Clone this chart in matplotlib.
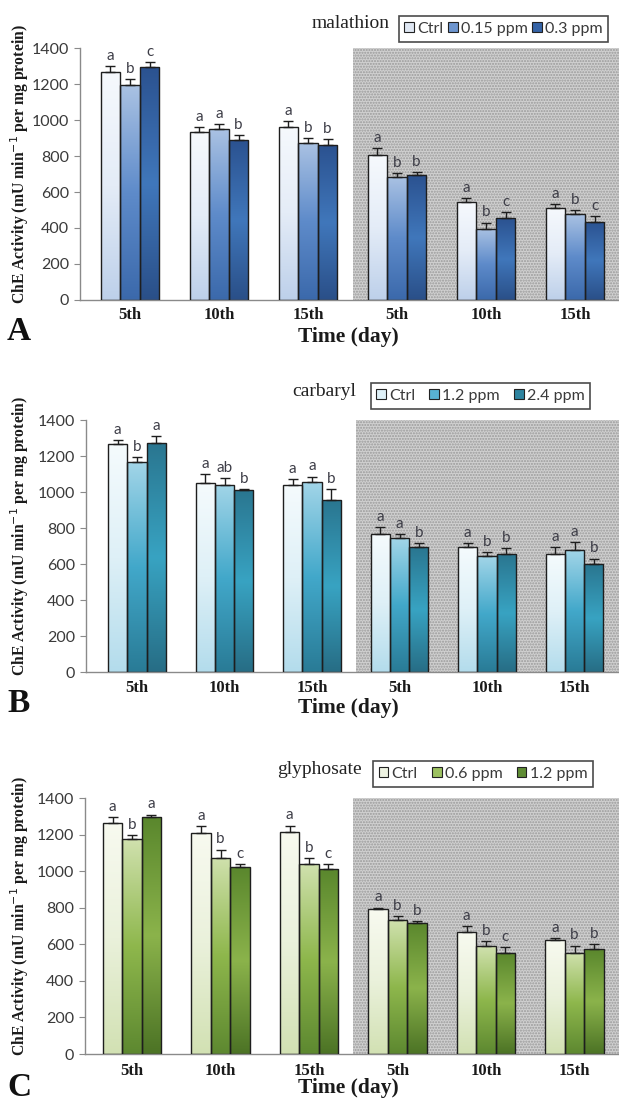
import numpy as np
import matplotlib
matplotlib.use("Agg")
import matplotlib.pyplot as plt
import matplotlib.patches as mpatches
from matplotlib.colors import LinearSegmentedColormap

# ---------------- data ----------------
days = ["5th", "10th", "15th", "5th", "10th", "15th"]

mal_labels = ["Ctrl", "0.15 ppm", "0.3 ppm"]
mal_ctrl = [1264, 933, 962, 805, 543, 512]
mal_low = [1192, 948, 873, 686, 397, 477]
mal_high = [1294, 888, 860, 694, 454, 436]
mal_ctrl_err = [37, 26, 30, 37, 24, 22]
mal_low_err = [37, 31, 28, 19, 33, 22]
mal_high_err = [26, 30, 32, 18, 36, 31]
mal_letters = [["a", "b", "c"], ["a", "a", "b"], ["a", "b", "b"],
               ["a", "b", "b"], ["a", "b", "c"], ["a", "b", "c"]]

car_labels = ["Ctrl", "1.2 ppm", "2.4 ppm"]
car_ctrl = [1265, 1048, 1038, 766, 692, 656]
car_low = [1164, 1040, 1055, 742, 642, 677]
car_high = [1272, 1011, 955, 694, 655, 599]
car_ctrl_err = [24, 50, 34, 37, 24, 39]
car_low_err = [28, 39, 30, 22, 24, 44]
car_high_err = [39, 5, 61, 20, 35, 31]
car_letters = [["a", "b", "a"], ["a", "ab", "b"], ["a", "a", "b"],
               ["a", "a", "b"], ["a", "b", "b"], ["a", "a", "b"]]

gly_labels = ["Ctrl", "0.6 ppm", "1.2 ppm"]
gly_ctrl = [1265, 1208, 1216, 794, 668, 624]
gly_low = [1174, 1073, 1037, 732, 588, 553]
gly_high = [1294, 1022, 1009, 719, 555, 573]
gly_ctrl_err = [31, 39, 33, 7, 33, 8]
gly_low_err = [23, 44, 33, 22, 31, 40]
gly_high_err = [15, 17, 31, 6, 31, 29]
gly_letters = [["a", "b", "a"], ["a", "b", "c"], ["a", "b", "c"],
               ["a", "b", "b"], ["a", "b", "c"], ["a", "b", "b"]]

yticks = [0, 200, 400, 600, 800, 1000, 1200, 1400]

# ---------------- style ----------------
W, H = 619, 1105
fig = plt.figure(figsize=(W / 100, H / 100), dpi=100)

SANS = "Lato"
SERIF = "Liberation Serif"

grads = {
    "A": [["#f6f9fd", "#e4ecf7", "#bdd0ea"],
          ["#aac2e3", "#5e8bca", "#3b69ab"],
          ["#2b5290", "#4077bb", "#2a4f88"]],
    "B": [["#f5fbfd", "#def0f7", "#b3dcec"],
          ["#a2d5e8", "#42a8ca", "#297b96"],
          ["#2a7690", "#38a3c2", "#276d85"]],
    "C": [["#f8faf0", "#eaf1db", "#d2e1b3"],
          ["#d0e1ae", "#8eb74c", "#5d8830"],
          ["#5a872d", "#8bb34b", "#4c7325"]],
}
legend_mid = {
    "A": ["#dfe7f3", "#6d95cf", "#3563a6"],
    "B": ["#def0f7", "#58b2d2", "#2e84a0"],
    "C": ["#eef3e2", "#9cc160", "#5f8c34"],
}

panels = [
    dict(key="A", title="malathion", labels=mal_labels,
         vals=[mal_ctrl, mal_low, mal_high],
         errs=[mal_ctrl_err, mal_low_err, mal_high_err], letters=mal_letters,
         left=80, c0=130, sp=89, y0=300, y1400=48,
         leg=(400, 607, 15, 43), colsp=0.3, title_x=312, title_y=24,
         letter_y=331, time_y=337, tickpad=5),
    dict(key="B", title="carbaryl", labels=car_labels,
         vals=[car_ctrl, car_low, car_high],
         errs=[car_ctrl_err, car_low_err, car_high_err], letters=car_letters,
         left=86, c0=137, sp=87.5, y0=672, y1400=420,
         leg=(368, 593, 380, 412), colsp=0.9, title_x=292, title_y=391,
         letter_y=703, time_y=708, tickpad=6),
    dict(key="C", title="glyphosate", labels=gly_labels,
         vals=[gly_ctrl, gly_low, gly_high],
         errs=[gly_ctrl_err, gly_low_err, gly_high_err], letters=gly_letters,
         left=85, c0=132, sp=88.5, y0=1054, y1400=798,
         leg=(369, 597, 758, 790), colsp=0.9, title_x=277, title_y=769,
         letter_y=1087, time_y=1088, tickpad=6.5),
]

bw = 0.22
offsets = [-bw, 0.0, bw]

for p in panels:
    key = p["key"]
    ax = fig.add_axes([p["left"] / W, 1 - p["y0"] / H,
                       (W - p["left"]) / W, (p["y0"] - p["y1400"]) / H])
    xmin = (p["left"] - p["c0"]) / p["sp"]
    xmax = (W - p["c0"]) / p["sp"]

    # shaded region
    ax.axvspan(2.5, xmax, ymin=0, ymax=1, facecolor="#d0d0d0",
               edgecolor="#9a9a9a", hatch="......", linewidth=0, zorder=0)

    x = np.arange(len(days))
    for i in range(3):
        cmap = LinearSegmentedColormap.from_list(f"g{key}{i}", grads[key][i])
        xs = x + offsets[i]
        bars = ax.bar(xs, p["vals"][i], width=bw, facecolor="none",
                      edgecolor="#1e1e1e", linewidth=1.0, zorder=3)
        for b in bars:
            bx = b.get_x()
            bwid, bh = b.get_width(), b.get_height()
            grad = np.linspace(0, 1, 256).reshape(-1, 1)
            im = ax.imshow(grad, cmap=cmap, aspect="auto", origin="upper",
                           extent=[bx, bx + bwid, 0, bh], zorder=2,
                           interpolation="bilinear")
            im.set_clip_path(b)
        ax.errorbar(xs, p["vals"][i],
                    yerr=[np.zeros(len(xs)), p["errs"][i]],
                    fmt="none", ecolor="#1e1e1e", elinewidth=1.0,
                    capsize=3.5, capthick=1.0, zorder=4)
        for j in range(len(days)):
            top = p["vals"][i][j] + p["errs"][i][j]
            ax.text(xs[j], top + 18, p["letters"][j][i], ha="center",
                    va="bottom", fontsize=11, color="#3d3d47",
                    family=SANS, zorder=5)
    ax.set_aspect("auto")
    ax.set_xlim(xmin, xmax)
    ax.set_ylim(0, 1400)

    ax.set_xticks(x)
    ax.set_xticklabels(days, family=SERIF, fontweight="bold", fontsize=12,
                       color="#1a1a1a")
    ax.tick_params(axis="x", length=0, pad=p["tickpad"])
    ax.set_yticks(yticks)
    ax.set_yticklabels([str(v) for v in yticks], family=SANS, fontsize=11.5,
                       color="#3a3a3a")
    ax.tick_params(axis="y", length=4, width=0.8, color="#8a8a8a", pad=4)
    for s in ["top", "right"]:
        ax.spines[s].set_visible(False)
    for s in ["left", "bottom"]:
        ax.spines[s].set_color("#8a8a8a")
        ax.spines[s].set_linewidth(1.0)

    # y label
    fig.text(20 / W, 1 - ((p["y0"] + p["y1400"]) / 2 - 10) / H,
             "ChE Activity (mU min$^{-1}$ per mg protein)", rotation=90,
             ha="center", va="center", family=SERIF, fontweight="bold",
             fontsize=11.3, color="#1a1a1a")
    # x label
    fig.text(348 / W, 1 - p["time_y"] / H, "Time (day)", ha="center",
             va="center", family=SERIF, fontweight="bold", fontsize=15.5,
             color="#1a1a1a")
    # panel letter
    fig.text(7 / W, 1 - p["letter_y"] / H, key, ha="left", va="center",
             family=SERIF, fontweight="bold", fontsize=24, color="#111111")

    # legend
    lx0, lx1, ly0, ly1 = p["leg"]
    handles = [mpatches.Patch(facecolor=legend_mid[key][k], edgecolor="#222222",
                              linewidth=0.8, label=p["labels"][k])
               for k in range(3)]
    leg = fig.legend(handles=handles, loc="center",
                     bbox_to_anchor=((lx0 + lx1) / 2 / W, 1 - (ly0 + ly1) / 2 / H),
                     ncol=3, frameon=True, fancybox=False, handlelength=0.6,
                     handleheight=0.6, handletextpad=0.2,
                     columnspacing=p["colsp"],
                     borderpad=0.35, borderaxespad=0,
                     prop=dict(family=SANS, size=11.5),
                     labelcolor="#3a3a3a")
    leg.get_frame().set_edgecolor("#1e1e1e")
    leg.get_frame().set_linewidth(1.2)
    fig.text(p["title_x"] / W, 1 - p["title_y"] / H, p["title"], ha="left",
             va="center", family=SERIF, fontsize=14, color="#222222")

fig.savefig("out.png", dpi=100)
